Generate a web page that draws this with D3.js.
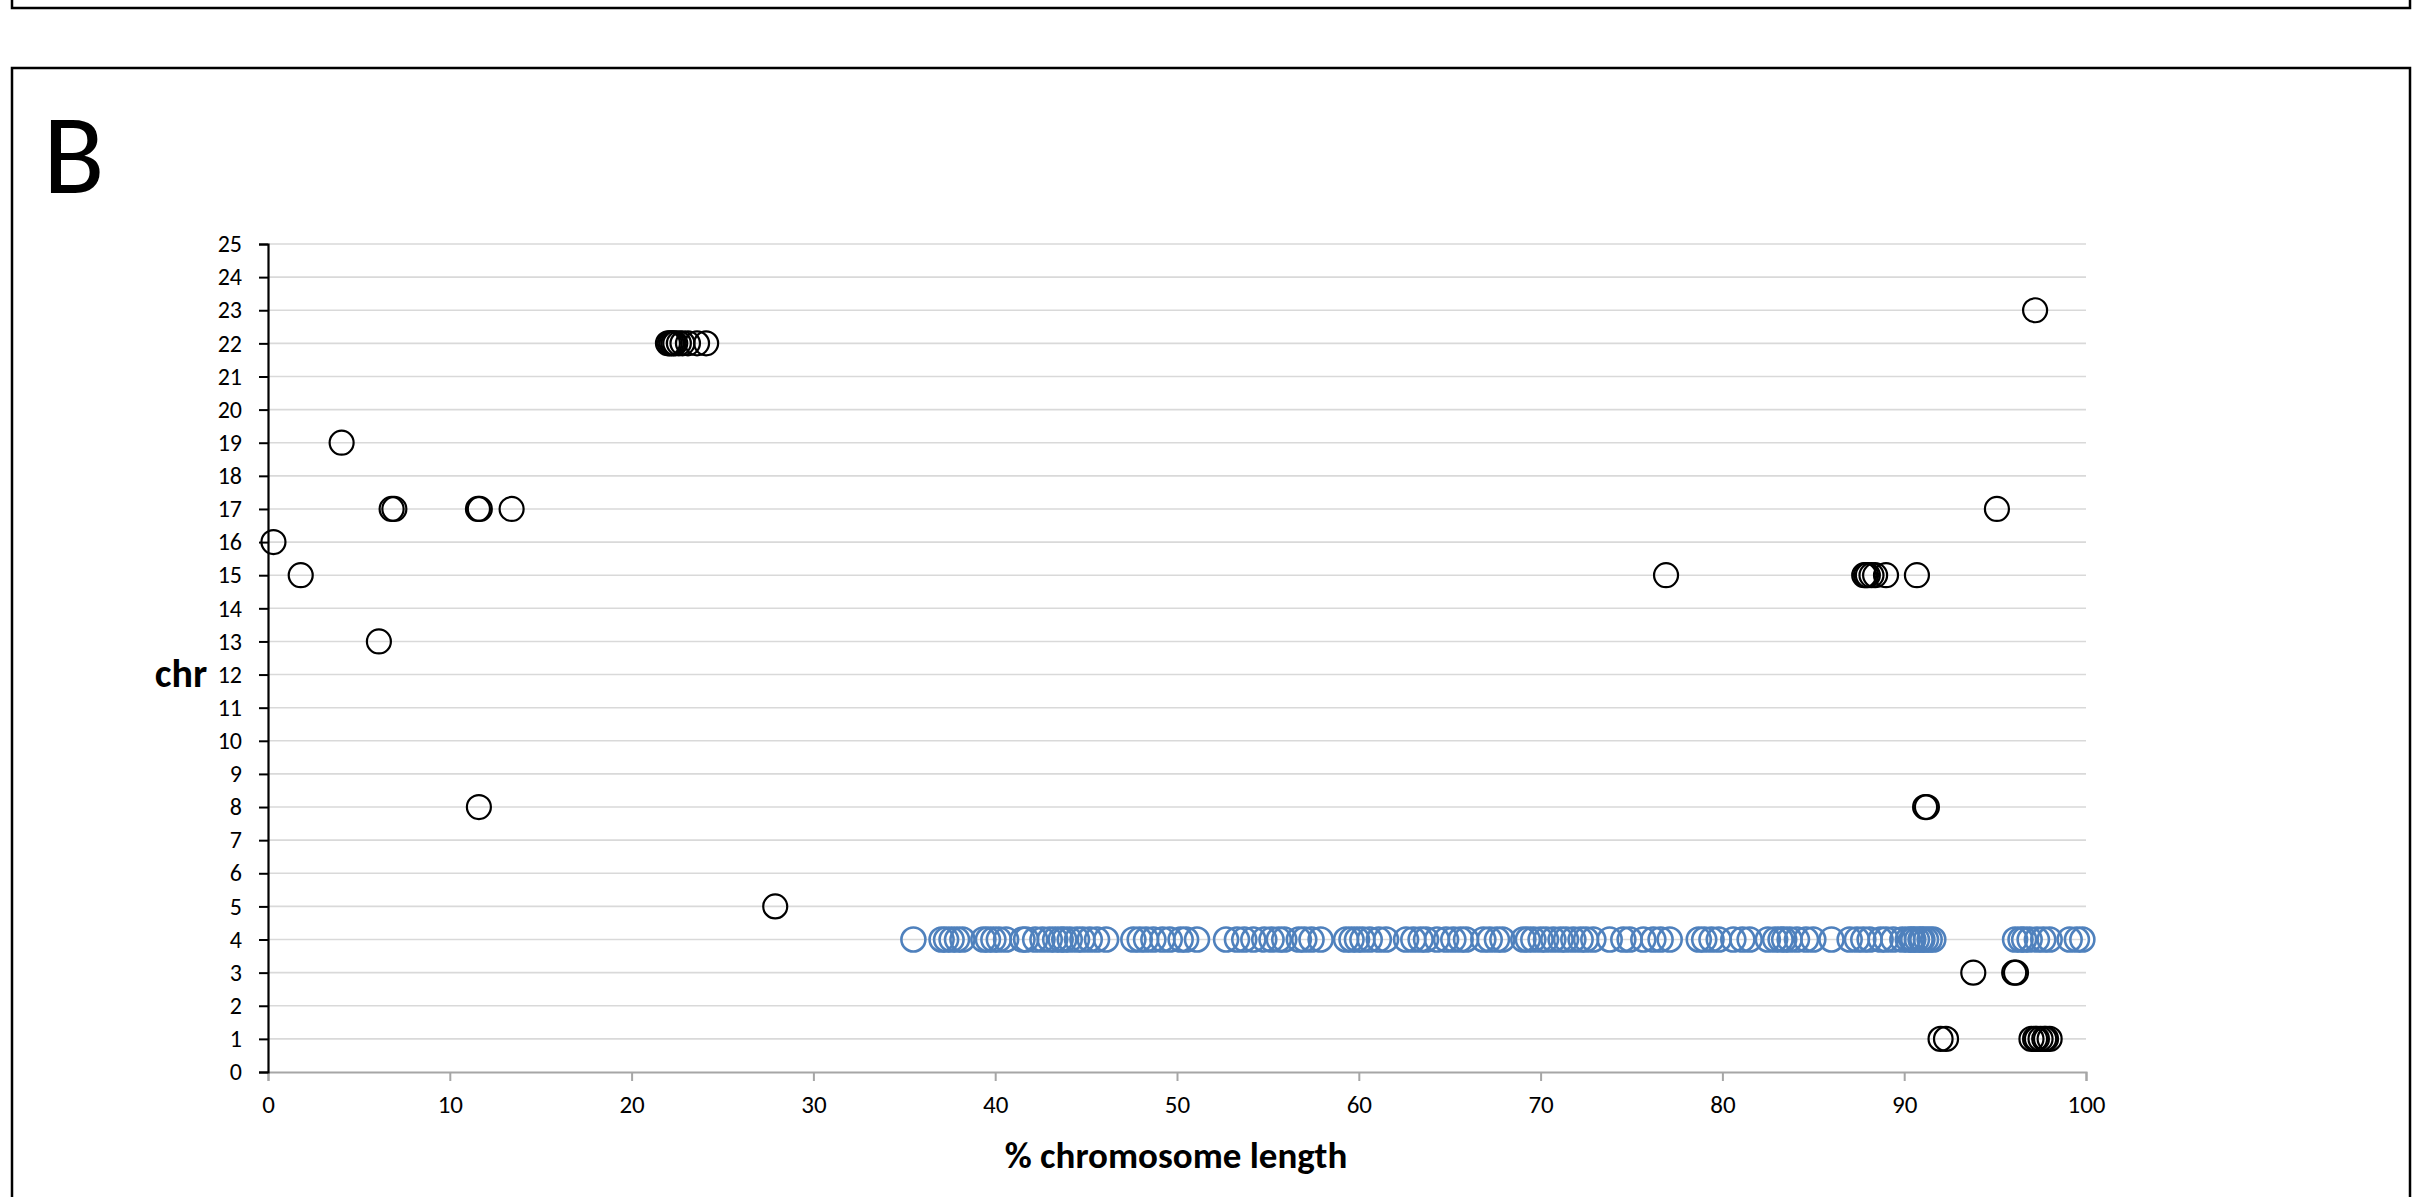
<!DOCTYPE html>
<html><head><meta charset="utf-8">
<script src="https://cdn.jsdelivr.net/npm/d3@7"></script>
<style>
html,body{margin:0;padding:0;background:#fff;}
svg{display:block;}
text{font-family: Carlito, Calibri, Lato, "Open Sans", sans-serif;}
</style></head>
<body>
<script>
// ---- data ----
const yTicks = d3.range(0, 26);
const xTicks = [0,10,20,30,40,50,60,70,80,90,100];
const xLabel = "% chromosome length";
const yLabel = "chr";
const panelLabel = "B";

// black series (other chromosomes)
const otherX   = [0.3, 1.8, 4.05, 6.1, 6.8, 6.95, 11.55, 11.65, 13.4, 11.6, 27.9,
                  22.0, 22.1, 22.2, 22.3, 22.4, 22.6, 22.8, 23.1, 23.6, 24.1,
                  76.9, 87.8, 87.9, 88.0, 88.2, 88.4, 89.0, 90.7,
                  95.1, 97.2, 91.15, 91.25, 93.8, 96.05, 96.15,
                  92.0, 92.3, 97.0, 97.2, 97.3, 97.5, 97.7, 97.8, 98.0];
const otherChr = [16, 15, 19, 13, 17, 17, 17, 17, 17, 8, 5,
                  22, 22, 22, 22, 22, 22, 22, 22, 22, 22,
                  15, 15, 15, 15, 15, 15, 15, 15,
                  17, 23, 8, 8, 3, 3, 3,
                  1, 1, 1, 1, 1, 1, 1, 1, 1];

// blue series (chromosome 4)
const chr4X = [35.5, 37.05, 37.3, 37.6, 37.9, 38.2, 39.35, 39.6, 39.9, 40.2, 40.6, 41.5, 41.7, 42.2, 42.6,
  43.0, 43.3, 43.6, 43.8, 44.1, 44.5, 44.8, 45.2, 45.6, 46.1, 47.6, 47.95, 48.3, 48.7, 49.2, 49.6,
  50.2, 50.5, 51.1, 52.7, 53.3, 53.7, 54.2, 54.8, 55.2, 55.6, 55.9, 56.7, 57.0, 57.4, 57.9,
  59.3, 59.6, 59.9, 60.2, 60.6, 61.1, 61.5, 62.6, 63.0, 63.4, 63.7, 64.3, 64.8, 65.2, 65.6, 65.9,
  66.85, 67.2, 67.6, 67.9, 69.05, 69.3, 69.6, 70.0, 70.3, 70.7, 71.1, 71.4, 71.8, 72.2, 72.5, 72.9,
  73.8, 74.55, 74.9, 75.65, 76.2, 76.6, 77.1, 78.7, 79.0, 79.4, 79.8, 80.6, 81.1, 81.5,
  82.5, 82.9, 83.2, 83.4, 83.7, 84.1, 84.6, 85.0, 86.0, 87.0, 87.4, 87.75, 88.1, 88.7, 89.0, 89.4,
  89.9, 90.2, 90.4, 90.5, 90.7, 90.9, 91.0, 91.2, 91.4, 91.6,
  96.1, 96.4, 96.6, 96.9, 97.3, 97.65, 98.0, 99.1, 99.5, 99.8];
const chr4Chr = chr4X.map(() => 4);

// ---- layout ----
const W = 2420, H = 1197;
const plot = {left: 268, right: 2086, top: 244, bottom: 1072};

const svg = d3.select("body").append("svg").attr("width", W).attr("height", H);

// panel frames
svg.append("rect").attr("x", 12).attr("y", -20).attr("width", 2398).attr("height", 28)
  .attr("fill", "none").attr("stroke", "#000").attr("stroke-width", 2.5);
svg.append("rect").attr("x", 12).attr("y", 68).attr("width", 2398).attr("height", 1200)
  .attr("fill", "none").attr("stroke", "#000").attr("stroke-width", 2.5);

svg.append("text").attr("x", 43).attr("y", 193).attr("font-size", 113)
  .attr("fill", "#000").text(panelLabel);

const x = d3.scaleLinear().domain([0, 100]).range([plot.left, plot.right]);
const y = d3.scaleLinear().domain([0, 25]).range([plot.bottom, plot.top]);

// gridlines
svg.append("g").selectAll("line").data(yTicks.filter(d => d > 0)).join("line")
  .attr("x1", plot.left).attr("x2", plot.right)
  .attr("y1", d => y(d)).attr("y2", d => y(d))
  .attr("stroke", "#d9d9d9").attr("stroke-width", 1.6);

// x axis
const xAxis = svg.append("g").attr("transform", `translate(0,${plot.bottom})`)
  .call(d3.axisBottom(x).tickValues(xTicks).tickSize(9).tickPadding(14).tickFormat(d3.format("d")));
xAxis.select(".domain").attr("stroke", "#a6a6a6").attr("stroke-width", 2);
xAxis.selectAll(".tick line").attr("stroke", "#a6a6a6").attr("stroke-width", 2);
xAxis.selectAll(".tick text").attr("font-size", 25).attr("fill", "#000")
  .style("font-family", "Carlito, Calibri, Lato, sans-serif");

// y axis
const yAxis = svg.append("g").attr("transform", `translate(${plot.left},0)`)
  .call(d3.axisLeft(y).tickValues(yTicks).tickSize(9).tickPadding(17).tickFormat(d3.format("d")));
yAxis.select(".domain").attr("stroke", "#000").attr("stroke-width", 2.2);
yAxis.selectAll(".tick line").attr("stroke", "#000").attr("stroke-width", 2);
yAxis.selectAll(".tick text").attr("font-size", 24).attr("fill", "#000")
  .style("font-family", "Carlito, Calibri, Lato, sans-serif");

// axis titles
svg.append("text").attr("x", 181).attr("y", 687).attr("text-anchor", "middle")
  .attr("font-size", 40).attr("font-weight", "bold").text(yLabel);
svg.append("text").attr("x", 1176).attr("y", 1168).attr("text-anchor", "middle")
  .attr("font-size", 37).attr("font-weight", "bold").text(xLabel);

// points
const blackPts = otherX.map((v, i) => ({x: v, c: otherChr[i]}));
const bluePts = chr4X.map((v, i) => ({x: v, c: chr4Chr[i]}));

svg.append("g").selectAll("circle").data(blackPts).join("circle")
  .attr("cx", d => x(d.x)).attr("cy", d => y(d.c)).attr("r", 12)
  .attr("fill", "none").attr("stroke", "#000").attr("stroke-width", 2.2);

svg.append("g").selectAll("circle").data(bluePts).join("circle")
  .attr("cx", d => x(d.x)).attr("cy", d => y(d.c)).attr("r", 12)
  .attr("fill", "none").attr("stroke", "#4f81bd").attr("stroke-width", 2.6);
</script>
</body></html>
